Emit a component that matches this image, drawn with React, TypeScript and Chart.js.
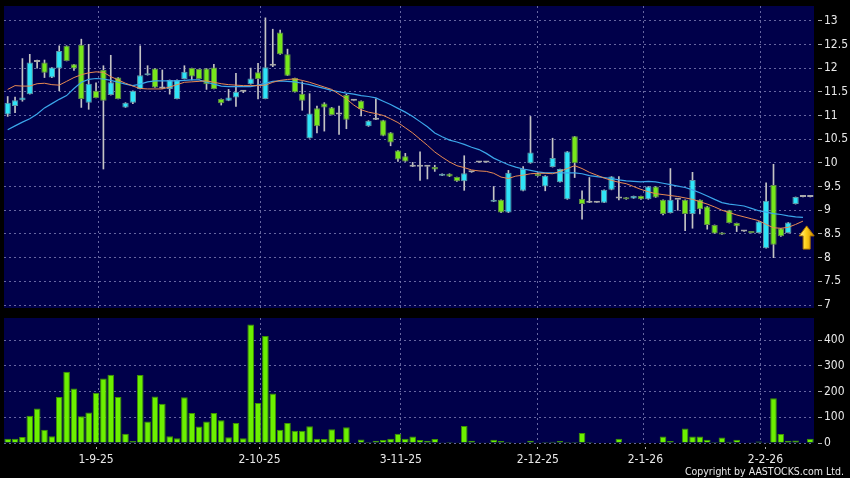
import React, { useEffect, useRef } from 'react';
import { Chart, registerables } from 'chart.js';

Chart.register(...registerables);

// ---------- DATA ----------
// positions are in slot units (slot 0 = first trading day shown)
const GRID_POS = [12.4, 34.4, 53.4, 72.0, 86.3, 102.3];
const TICK_POS = [12.0, 34.2, 53.4, 72.0, 86.6, 102.9];
const TICK_TEXT = ['1-9-25', '2-10-25', '3-11-25', '2-12-25', '2-1-26', '2-2-26'];

const OPEN: (number | null)[] = [
  11.02, 11.20, 11.32, 11.45, 12.13, 12.12, 11.80, 11.99, 12.47, 12.08,
  12.49, 11.27, 11.52, 11.96, 11.43, 11.80, 11.17, 11.27, 11.56, 11.85,
  11.99, 11.57, 11.56, 11.35, 11.77, 12.00, 11.98, 11.99, 12.01, 11.35,
  11.31, 11.38, 11.50, 11.66, 11.91, 11.35, 12.05, 12.75, 12.29, 11.79,
  11.46, 10.52, 11.15, 11.25, 11.17, 11.02, 11.43, 11.31, 11.31, 10.77,
  10.91, 10.90, 10.64, 10.26, 10.14, 9.92, 9.92, 9.92, 9.91, 9.73,
  9.77, 9.70, 9.61, 9.80, 10.01, 10.01, 9.18, 9.22, 8.95, null,
  9.41, 9.99, 9.77, 9.50, 9.91, 9.59, 9.23, 10.56, 9.24, 9.16,
  9.16, 9.16, 9.43, 9.25, 9.27, 9.25, 9.30, 9.23, 9.50, 9.22,
  8.94, 9.22, 9.22, 8.92, 9.22, 9.08, 8.69, 8.53, 9.00, 8.73,
  8.55, 8.55, 8.52, 8.20, 9.53, 8.62, 8.52, 9.13, 9.28, 9.28,
];
const CLOSE: (number | null)[] = [
  11.27, 11.32, 11.38, 12.12, 12.13, 11.90, 12.01, 12.36, 12.15, 11.99,
  11.35, 11.67, 11.37, 11.31, 11.70, 11.35, 11.27, 11.52, 11.85, 11.89,
  11.59, 11.57, 11.75, 11.75, 11.92, 11.82, 11.77, 11.66, 11.56, 11.26,
  11.38, 11.50, 11.50, 11.78, 11.77, 12.02, 12.05, 12.29, 11.84, 11.49,
  11.31, 11.04, 10.77, 11.17, 11.01, 11.02, 10.91, 11.31, 11.13, 10.89,
  10.91, 10.57, 10.43, 10.07, 10.03, 9.92, 9.92, 9.92, 9.86, 9.77,
  9.71, 9.61, 9.78, 9.80, 10.01, 10.01, 9.22, 8.95, 9.79, null,
  9.87, 10.22, 9.72, 9.73, 10.10, 9.87, 10.24, 9.99, 9.13, 9.16,
  9.16, 9.43, 9.71, 9.25, 9.23, 9.30, 9.23, 9.50, 9.27, 8.92,
  9.22, 9.22, 8.92, 9.64, 9.02, 8.69, 8.51, 8.49, 8.73, 8.66,
  8.55, 8.52, 8.76, 9.20, 8.27, 8.45, 8.74, 9.28, 9.28, 9.28,
];
const HIGH: (number | null)[] = [
  11.40, 11.39, 12.20, 12.29, 12.17, 12.17, 12.01, 12.47, 12.47, 12.08,
  12.61, 12.50, 11.69, 12.05, 12.27, 11.80, 11.27, 11.52, 12.47, 12.05,
  11.99, 11.96, 11.75, 11.75, 12.05, 12.00, 11.98, 11.99, 12.08, 11.35,
  11.55, 11.89, 11.52, 12.00, 12.10, 13.06, 12.82, 12.80, 12.40, 11.79,
  11.71, 11.46, 11.20, 11.27, 11.17, 11.20, 11.45, 11.31, 11.31, 10.89,
  11.35, 10.90, 10.64, 10.26, 10.20, 10.01, 10.23, 9.92, 9.95, 9.77,
  9.77, 9.70, 10.15, 9.80, 10.01, 10.01, 9.50, 9.22, 9.84, null,
  9.92, 10.98, 9.79, 9.73, 10.52, 9.87, 10.24, 10.56, 9.41, 9.69,
  9.16, 9.43, 9.71, 9.71, 9.27, 9.30, 9.30, 9.50, 9.50, 9.22,
  9.88, 9.22, 9.22, 9.80, 9.22, 9.08, 8.69, 8.53, 9.00, 8.73,
  8.55, 8.55, 8.76, 9.58, 9.97, 8.62, 8.74, 9.28, 9.28, 9.28,
];
const LOW: (number | null)[] = [
  10.98, 11.06, 11.30, 11.45, 12.00, 11.80, 11.80, 11.52, 12.15, 11.95,
  11.17, 11.13, 11.37, 9.87, 11.43, 11.35, 11.17, 11.25, 11.56, 11.85,
  11.59, 11.57, 11.45, 11.35, 11.77, 11.75, 11.77, 11.55, 11.56, 11.22,
  11.31, 11.19, 11.48, 11.66, 11.35, 11.35, 12.03, 12.29, 11.84, 11.49,
  11.11, 10.52, 10.63, 10.67, 11.01, 10.60, 10.72, 11.31, 10.99, 10.77,
  10.91, 10.57, 10.36, 10.03, 10.03, 9.92, 9.63, 9.66, 9.82, 9.73,
  9.71, 9.61, 9.42, 9.80, 10.01, 10.01, 9.18, 8.95, 8.95, null,
  9.41, 9.99, 9.72, 9.41, 9.91, 9.59, 9.23, 9.69, 8.81, 9.16,
  9.16, 9.16, 9.43, 9.22, 9.23, 9.25, 9.23, 9.23, 9.27, 8.90,
  8.94, 9.00, 8.57, 8.62, 8.92, 8.60, 8.51, 8.49, 8.73, 8.55,
  8.55, 8.52, 8.52, 8.20, 8.00, 8.45, 8.52, 9.13, 9.28, 9.28,
];
const MA_SHORT: (number | null)[] = [
  11.55, 11.63, 11.62, 11.62, 11.67, 11.68, 11.65, 11.64, 11.72, 11.80,
  11.86, 11.90, 11.92, 11.91, 11.82, 11.75, 11.68, 11.62, 11.57, 11.56,
  11.56, 11.56, 11.60, 11.65, 11.70, 11.71, 11.72, 11.73, 11.70, 11.67,
  11.65, 11.64, 11.63, 11.63, 11.63, 11.64, 11.70, 11.74, 11.76, 11.77,
  11.74, 11.70, 11.65, 11.60, 11.55, 11.45, 11.35, 11.22, 11.12, 11.07,
  11.04, 11.00, 10.93, 10.85, 10.74, 10.63, 10.50, 10.37, 10.23, 10.12,
  10.02, 9.94, 9.90, 9.85, 9.83, 9.82, 9.78, 9.70, 9.67, 9.72,
  9.74, 9.77, 9.78, 9.78, 9.77, 9.82, 9.88, 9.94, 9.88, 9.80,
  9.74, 9.68, 9.63, 9.59, 9.56, 9.50, 9.44, 9.39, 9.35, 9.33,
  9.31, 9.29, 9.26, 9.23, 9.18, 9.13, 9.07, 9.00, 8.95, 8.90,
  8.86, 8.82, 8.78, 8.70, 8.63, 8.62, 8.64, 8.70, 8.77, null,
];
const MA_LONG: (number | null)[] = [
  10.70, 10.78, 10.86, 10.93, 11.03, 11.16, 11.25, 11.34, 11.42, 11.57,
  11.70, 11.76, 11.78, 11.77, 11.74, 11.70, 11.66, 11.63, 11.66, 11.71,
  11.73, 11.73, 11.73, 11.73, 11.74, 11.75, 11.75, 11.70, 11.66, 11.62,
  11.61, 11.61, 11.61, 11.61, 11.64, 11.68, 11.72, 11.73, 11.72, 11.71,
  11.68, 11.65, 11.61, 11.57, 11.53, 11.50, 11.47, 11.45, 11.42, 11.40,
  11.37, 11.30, 11.23, 11.15, 11.07, 10.98, 10.87, 10.76, 10.63, 10.55,
  10.48, 10.44, 10.39, 10.33, 10.28, 10.20, 10.10, 10.03, 9.96, 9.91,
  9.87, 9.84, 9.81, 9.79, 9.79, 9.79, 9.79, 9.79, 9.77, 9.73,
  9.71, 9.69, 9.67, 9.64, 9.62, 9.61, 9.60, 9.61, 9.60, 9.57,
  9.54, 9.51, 9.48, 9.43, 9.37, 9.30, 9.23, 9.16, 9.13, 9.11,
  9.09, 9.04, 8.99, 8.96, 8.93, 8.91, 8.88, 8.86, 8.85, null,
];
const VOLUME: number[] = [
  17, 17, 23, 106, 134, 52, 26, 179, 277, 212,
  104, 119, 195, 251, 265, 179, 36, 8, 264, 84,
  181, 153, 26, 18, 178, 117, 64, 84, 117, 88,
  22, 78, 18, 461, 156, 416, 192, 52, 78, 48,
  48, 65, 17, 16, 53, 16, 61, 0, 14, 4,
  9, 12, 17, 36, 17, 25, 12, 9, 16, 3,
  4, 1, 66, 9, 1, 1, 13, 8, 4, 0,
  1, 9, 1, 4, 5, 8, 4, 4, 39, 4,
  0, 0, 0, 17, 0, 1, 1, 0, 0, 25,
  8, 0, 56, 25, 25, 13, 4, 21, 5, 13,
  0, 3, 6, 3, 174, 35, 9, 10, 0, 17,
];
const SLOT_LABELS = OPEN.map((_, i) => `d${i}`);
const PRICE_MIN = 6.937;
const PRICE_MAX = 13.31;
const VOL_MAX = 486;
const ARROW_SLOT = 108; // arrow sits between this slot and the next
const ARROW_TIP = 8.67;
const ARROW_BASE = 8.18;

// ---------- STYLE ----------
const FONT = { family: '"DejaVu Sans Condensed", "DejaVu Sans", sans-serif', size: 12 };
const TEXT = '#e8e8e8';
const GRID = 'rgba(120,120,175,0.85)';
const NAVY = '#00004a';
const CYAN = '#2fe4f7';
const GREEN = '#77e81b';
const DOJI = '#a9a9a9';
const N = OPEN.length;

const plotBg = {
  id: 'plotBg',
  beforeDraw(chart: any) {
    const { ctx, chartArea: a } = chart;
    ctx.save();
    ctx.fillStyle = NAVY;
    ctx.fillRect(a.left, a.top, a.right - a.left, a.bottom - a.top);
    ctx.restore();
  },
};

const arrowPlugin = {
  id: 'arrowMark',
  afterDatasetsDraw(chart: any) {
    const { ctx } = chart;
    const xs = chart.scales.x;
    const ys = chart.scales.y;
    const cx = (xs.getPixelForValue(ARROW_SLOT) + xs.getPixelForValue(ARROW_SLOT + 1)) / 2;
    const yt = ys.getPixelForValue(ARROW_TIP);
    const yb = ys.getPixelForValue(ARROW_BASE);
    const hw = 7.5, sw = 3.5, hh = 10;
    ctx.save();
    const g = ctx.createLinearGradient(cx - hw, 0, cx + hw, 0);
    g.addColorStop(0, '#fff4a8');
    g.addColorStop(0.45, '#ffd21a');
    g.addColorStop(1, '#d08a00');
    ctx.beginPath();
    ctx.moveTo(cx, yt);
    ctx.lineTo(cx + hw, yt + hh);
    ctx.lineTo(cx + sw, yt + hh);
    ctx.lineTo(cx + sw, yb);
    ctx.lineTo(cx - sw, yb);
    ctx.lineTo(cx - sw, yt + hh);
    ctx.lineTo(cx - hw, yt + hh);
    ctx.closePath();
    ctx.fillStyle = g;
    ctx.fill();
    ctx.strokeStyle = '#b07800';
    ctx.lineWidth = 1;
    ctx.stroke();
    ctx.restore();
  },
};

const noPad = (s: any) => { s.paddingTop = 0; s.paddingBottom = 0; s.paddingLeft = 0; s.paddingRight = 0; };

const hiddenSlotAxis = { type: 'category', offset: true, display: false };

const gridAxis = (h: number) => ({
  type: 'linear',
  position: 'bottom',
  offset: false,
  min: -0.5,
  max: N - 0.5,
  afterBuildTicks: (s: any) => { s.ticks = GRID_POS.map((v) => ({ value: v })); },
  grid: { color: GRID, drawTicks: false, offset: false },
  border: { display: false, dash: [2, 3] },
  ticks: { display: false },
  afterFit: (s: any) => { s.height = h; noPad(s); },
});

const priceAxis = {
  position: 'right',
  min: PRICE_MIN,
  max: PRICE_MAX,
  afterFit: (s: any) => { s.width = 36; noPad(s); },
  ticks: { stepSize: 0.5, includeBounds: false, color: TEXT, font: FONT, padding: 2, callback: (v: any) => String(v) },
  grid: { color: GRID, tickLength: 8, tickColor: '#b0b0b0', tickBorderDash: [0, 4, 4, 8] },
  border: { display: false, dash: [2, 3] },
};

export default function App() {
  const priceRef = useRef<HTMLCanvasElement>(null);
  const volRef = useRef<HTMLCanvasElement>(null);

  useEffect(() => {
    const bodies = OPEN.map((o, i) => (o == null || CLOSE[i] == null ? null : [o, CLOSE[i] as number]));
    const wicks = LOW.map((l, i) => (l == null || HIGH[i] == null ? null : [l, HIGH[i] as number]));
    const bodyColor = OPEN.map((o, i) => {
      const c = CLOSE[i];
      if (o == null || c == null) return DOJI;
      return c > o ? CYAN : c < o ? GREEN : DOJI;
    });
    const bodyBorder = OPEN.map((o, i) => {
      const c = CLOSE[i];
      if (o == null || c == null) return DOJI;
      return c > o ? '#5f98a6' : c < o ? '#5f8a48' : DOJI;
    });

    const price = new Chart(priceRef.current as HTMLCanvasElement, {
      type: 'bar',
      data: {
        labels: SLOT_LABELS,
        datasets: [
          { type: 'line', label: 'MA short', data: MA_SHORT as any, borderColor: '#e98a52', borderWidth: 1, pointRadius: 0, order: 0 } as any,
          { type: 'line', label: 'MA long', data: MA_LONG as any, borderColor: '#3ba6ea', borderWidth: 1.2, pointRadius: 0, order: 0 } as any,
          {
            label: 'body', data: bodies as any, backgroundColor: bodyColor, borderColor: bodyBorder,
            borderWidth: 1, borderSkipped: false, barPercentage: 0.86, categoryPercentage: 1,
            minBarLength: 2, grouped: false, order: 1,
          } as any,
          { label: 'wick', data: wicks as any, backgroundColor: '#c4c4c4', barThickness: 1, grouped: false, order: 2 } as any,
        ],
      },
      options: {
        responsive: false,
        animation: false,
        layout: { padding: { left: 4, top: 6, right: 0, bottom: 0 } },
        plugins: { legend: { display: false }, tooltip: { enabled: false } },
        scales: {
          x: hiddenSlotAxis,
          xg: gridAxis(10),
          y: priceAxis,
        },
      } as any,
      plugins: [plotBg, arrowPlugin],
    });

    const vol = new Chart(volRef.current as HTMLCanvasElement, {
      type: 'bar',
      data: {
        labels: SLOT_LABELS,
        datasets: [
          {
            label: 'Volume', data: VOLUME, backgroundColor: '#6cf000', borderColor: '#3d9400',
            borderWidth: 1, borderSkipped: 'start', barPercentage: 0.9, categoryPercentage: 1,
          } as any,
        ],
      },
      options: {
        responsive: false,
        animation: false,
        layout: { padding: { left: 4, top: 8, right: 0, bottom: 0 } },
        plugins: { legend: { display: false }, tooltip: { enabled: false } },
        scales: {
          x: hiddenSlotAxis,
          xg: gridAxis(0),
          xl: {
            type: 'linear',
            position: 'bottom',
            offset: false,
            min: -0.5,
            max: N - 0.5,
            afterBuildTicks: (s: any) => { s.ticks = TICK_POS.map((v) => ({ value: v })); },
            grid: { drawOnChartArea: false, offset: false, tickLength: 6, tickColor: '#b0b0b0', tickBorderDash: [0, 4, 2, 10] },
            border: { display: false },
            ticks: {
              autoSkip: false, maxRotation: 0, minRotation: 0, color: TEXT, font: FONT, padding: 4,
              callback: (_v: any, i: number) => TICK_TEXT[i],
            },
            afterFit: (s: any) => { s.height = 35; noPad(s); },
          },
          y: {
            position: 'right',
            min: 0,
            max: VOL_MAX,
            afterFit: (s: any) => { s.width = 36; noPad(s); },
            ticks: { stepSize: 100, includeBounds: false, color: TEXT, font: FONT, padding: 2 },
            grid: { color: GRID, tickLength: 8, tickColor: '#b0b0b0', tickBorderDash: [0, 4, 4, 8] },
            border: { display: false, dash: [2, 3] },
          },
        },
      } as any,
      plugins: [plotBg],
    });

    return () => { price.destroy(); vol.destroy(); };
  }, []);

  return (
    <div style={{ position: 'absolute', left: 0, top: 0, width: 850, height: 478, background: '#000', overflow: 'hidden' }}>
      <canvas ref={priceRef} width={850} height={318} style={{ position: 'absolute', left: 0, top: 0 }} />
      <canvas ref={volRef} width={850} height={168} style={{ position: 'absolute', left: 0, top: 310 }} />
      <div
        style={{
          position: 'absolute', right: 6, top: 465, color: TEXT, lineHeight: '12px',
          fontFamily: '"DejaVu Sans Condensed", "DejaVu Sans", sans-serif', fontSize: 10.5, whiteSpace: 'nowrap',
        }}
      >
        Copyright by AASTOCKS.com Ltd.
      </div>
    </div>
  );
}
